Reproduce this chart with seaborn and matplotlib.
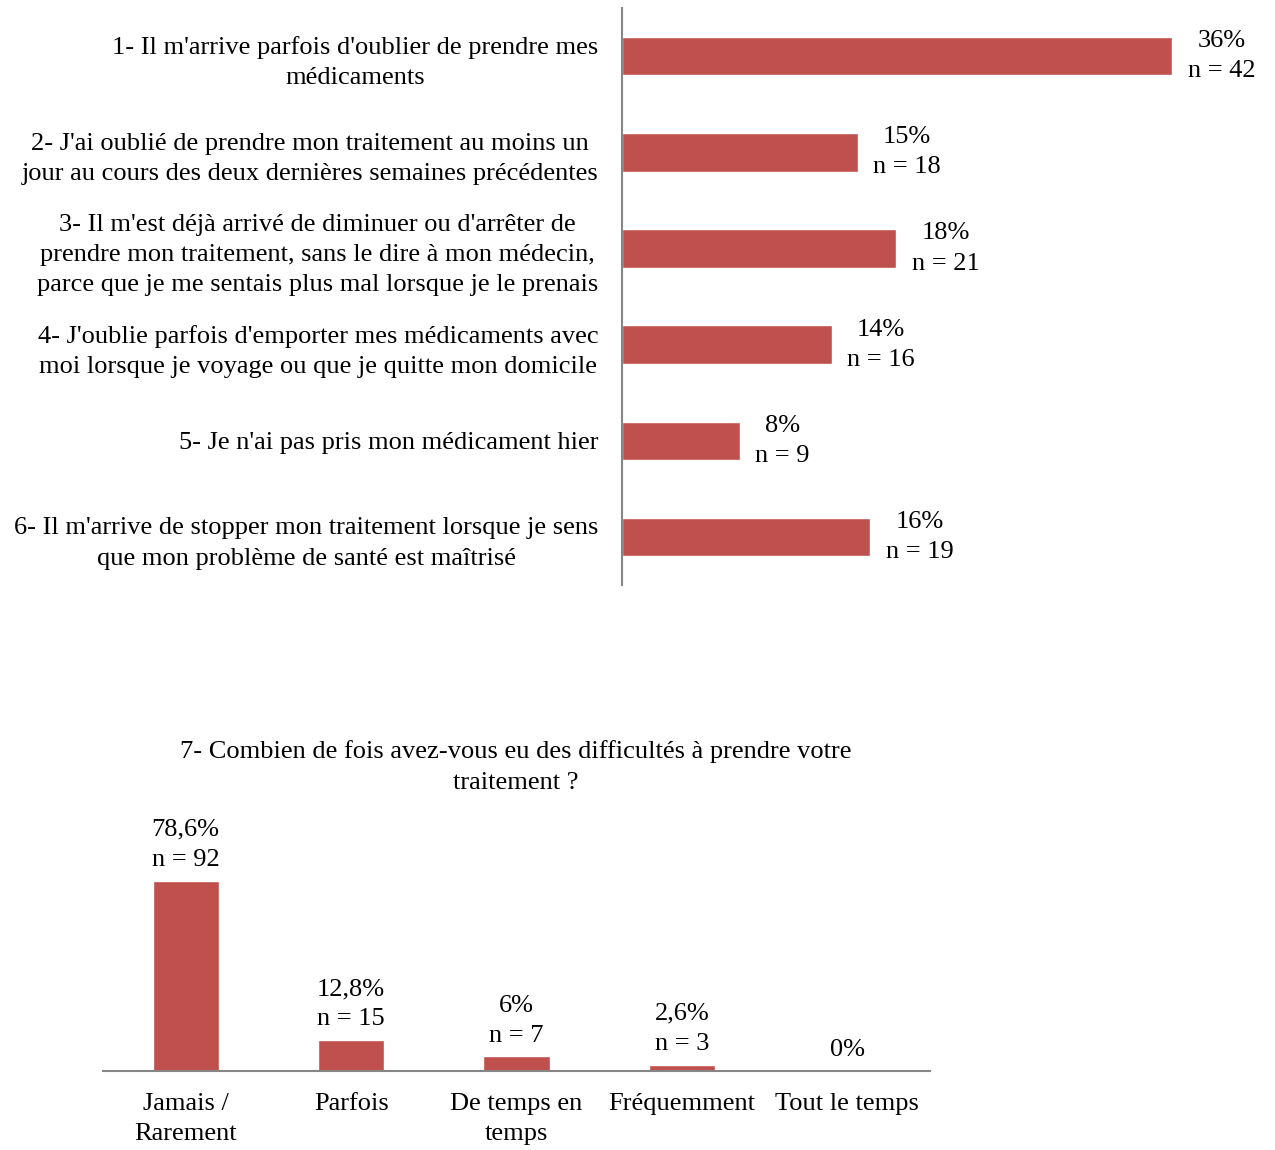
import pandas as pd
import matplotlib.pyplot as plt
import seaborn as sns

# Données du graphique du haut
questions = [
    "1- Il m'arrive parfois d'oublier de prendre mes\nmédicaments",
    "2- J'ai oublié de prendre mon traitement au moins un\njour au cours des deux dernières semaines précédentes",
    "3- Il m'est déjà arrivé de diminuer ou d'arrêter de\nprendre mon traitement, sans le dire à mon médecin,\nparce que je me sentais plus mal lorsque je le prenais",
    "4- J'oublie parfois d'emporter mes médicaments avec\nmoi lorsque je voyage ou que je quitte mon domicile",
    "5- Je n'ai pas pris mon médicament hier",
    "6- Il m'arrive de stopper mon traitement lorsque je sens\nque mon problème de santé est maîtrisé",
]
pct_questions = [35.9, 15.4, 17.9, 13.7, 7.7, 16.2]
labels_questions = ["36%", "15%", "18%", "14%", "8%", "16%"]
n_questions = [42, 18, 21, 16, 9, 19]

# Données du graphique du bas
frequences = ["Jamais /\nRarement", "Parfois", "De temps en\ntemps", "Fréquemment", "Tout le temps"]
pct_freq = [78.6, 12.8, 6.0, 2.6, 0.0]
labels_freq = ["78,6%\nn = 92", "12,8%\nn = 15", "6%\nn = 7", "2,6%\nn = 3", "0%"]

rouge = "#C0504D"
gris = "#868686"
fs = 19
ls = 1.48

sns.set_style("white")
plt.rcParams['font.family'] = ['Liberation Serif', 'DejaVu Serif']
plt.rcParams['font.size'] = fs
plt.rcParams['text.color'] = 'black'
plt.rcParams['xtick.color'] = 'black'
plt.rcParams['ytick.color'] = 'black'

fig = plt.figure(figsize=(12.75, 11.5), dpi=100)

# Graphique du haut (barres horizontales)
ax1 = fig.add_axes([0.4878, 0.4913, 0.4785, 0.5017])
df1 = pd.DataFrame({'question': questions, 'pct': pct_questions})
sns.barplot(data=df1, x='pct', y='question', color=rouge, width=0.4,
            saturation=1, ax=ax1, orient='h')
ax1.set_xlim(0, 39.8)
ax1.set_ylim(5.5, -0.5)
ax1.set_xlabel('')
ax1.set_ylabel('')
ax1.set_xticks([])
ax1.tick_params(axis='y', length=0, pad=17, labelsize=fs)
for lab in ax1.get_yticklabels():
    lab.set_multialignment('center')
    lab.set_linespacing(ls)
for s in ['top', 'right', 'bottom']:
    ax1.spines[s].set_visible(False)
ax1.spines['left'].set_color(gris)
ax1.spines['left'].set_linewidth(1.5)
for i, (p, lab, n) in enumerate(zip(pct_questions, labels_questions, n_questions)):
    ax1.annotate(f"{lab}\nn = {n}", xy=(p, i), xytext=(11, 0),
                 textcoords='offset points', ha='left', va='center',
                 multialignment='center', fontsize=fs, linespacing=ls)

# Graphique du bas (barres verticales)
ax2 = fig.add_axes([0.0808, 0.0687, 0.6486, 0.2104])
df2 = pd.DataFrame({'freq': frequences, 'pct': pct_freq})
sns.barplot(data=df2, x='freq', y='pct', color=rouge, width=0.4,
            saturation=1, ax=ax2)
ax2.set_xlim(-0.5, 4.5)
ax2.set_ylim(0, 100)
ax2.set_xlabel('')
ax2.set_ylabel('')
ax2.set_yticks([])
ax2.tick_params(axis='x', length=0, pad=16, labelsize=fs)
for lab in ax2.get_xticklabels():
    lab.set_linespacing(ls)
for s in ['top', 'right', 'left']:
    ax2.spines[s].set_visible(False)
ax2.spines['bottom'].set_color(gris)
ax2.spines['bottom'].set_linewidth(1.5)
for i, (p, lab) in enumerate(zip(pct_freq, labels_freq)):
    ax2.annotate(lab, xy=(i, p), xytext=(0, 7), textcoords='offset points',
                 ha='center', va='bottom', multialignment='center',
                 fontsize=fs, linespacing=ls, annotation_clip=False)

fig.text(516 / 1275, 1 - 767 / 1150,
         "7- Combien de fois avez-vous eu des difficultés à prendre votre\ntraitement ?",
         ha='center', va='center', multialignment='center', fontsize=fs,
         linespacing=ls)

fig.savefig('out.png', dpi=100)
